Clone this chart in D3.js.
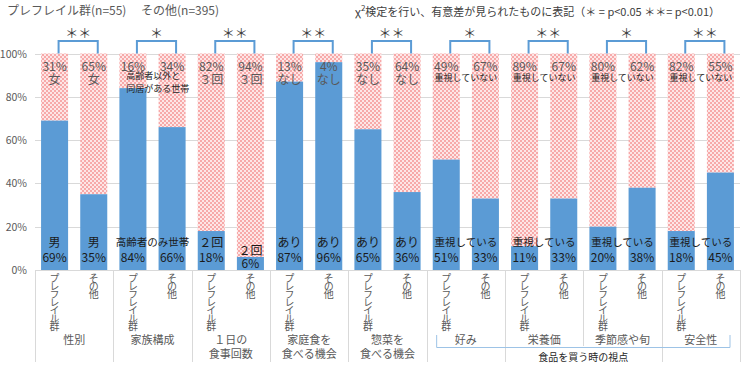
<!DOCTYPE html>
<html><head><meta charset="utf-8">
<script src="https://cdn.jsdelivr.net/npm/d3@7"></script>
<style>body{margin:0;background:#fff}svg{display:block;font-family:"Noto Sans CJK JP","Noto Sans",sans-serif}
.vt{writing-mode:vertical-rl;text-orientation:upright;letter-spacing:-1.9px}</style>
</head><body><svg id="c" width="747" height="367"></svg>
<script>
// ---------- data ----------
const groupLabels = [["性別"],["家族構成"],["１日の","食事回数"],["家庭食を","食べる機会"],["惣菜を","食べる機会"],["好み"],["栄養価"],["季節感や旬"],["安全性"]];
const barNames = ["プレフレイル群","その他"];
const preValues = [69,84,18,87,65,51,11,20,18];      // blue part, プレフレイル群
const othValues = [35,66,6,96,36,33,33,38,45];       // blue part, その他
const preTop = [31,16,82,13,35,49,89,80,82];         // pink part, プレフレイル群
const othTop = [65,34,94,4,64,67,67,62,55];          // pink part, その他
const bottomWords = ["男","高齢者のみ世帯","２回","あり","あり","重視している","重視している","重視している","重視している"];
const topWords = [["女"],["高齢者以外と","同居がある世帯"],["３回"],["なし"],["なし"],["重視していない"],["重視していない"],["重視していない"],["重視していない"]];
const sharedWord = [false,true,false,false,false,true,true,true,true];
const signif = ["＊＊","＊","＊＊","＊＊","＊＊","＊","＊＊","＊","＊＊"];
const yTicks = [0,20,40,60,80,100];
const subGroupTitle = "食品を買う時の視点";
const titleParts = ["プレフレイル群(n=55)","その他(n=395)"];

// ---------- layout ----------
const svg = d3.select("#c");
const L = 35, R = 740, T = 53.5, B = 270;
const nG = groupLabels.length;
const bars = [];
groupLabels.forEach((g,i)=>{
  bars.push({g:i,b:0,key:i+"-0",v:preValues[i],t:preTop[i]});
  bars.push({g:i,b:1,key:i+"-1",v:othValues[i],t:othTop[i]});
});
const x = d3.scaleBand().domain(bars.map(d=>d.key)).range([L,R]).paddingInner(0.31).paddingOuter(0.155);
const xg = d3.scaleBand().domain(d3.range(nG)).range([L,R]);
const y = d3.scaleLinear().domain([0,100]).range([B,T]);

// pattern
const defs = svg.append("defs");
const pat = defs.append("pattern").attr("id","chk").attr("width",4).attr("height",4).attr("patternUnits","userSpaceOnUse");
pat.append("rect").attr("width",4).attr("height",4).attr("fill","#fde6e6");
pat.append("rect").attr("width",2).attr("height",2).attr("fill","#f7a9a9");
pat.append("rect").attr("x",2).attr("y",2).attr("width",2).attr("height",2).attr("fill","#f7a9a9");

// titles
svg.append("text").attr("x",7).attr("y",15).attr("font-size",12).attr("fill","#595959").text(titleParts[0]);
svg.append("text").attr("x",141).attr("y",15).attr("font-size",12).attr("fill","#595959").text(titleParts[1]);
const note = svg.append("text").attr("x",355).attr("y",16).attr("font-size",11).attr("fill","#404040");
note.append("tspan").text("χ");
note.append("tspan").attr("dy",-5).attr("font-size",8).text("2");
note.append("tspan").attr("dy",5).text("検定を行い、有意差が見られたものに表記（＊ = p<0.05  ＊＊= p<0.01）");

// grid
svg.append("g").selectAll("line").data(yTicks.filter(t=>t>0)).join("line")
  .attr("x1",L).attr("x2",R).attr("y1",d=>Math.round(y(d))+0.5).attr("y2",d=>Math.round(y(d))+0.5)
  .attr("stroke","#d9d9d9").attr("stroke-width",1);
svg.append("g").selectAll("text").data(yTicks).join("text")
  .attr("x",27).attr("y",d=>y(d)+4).attr("text-anchor","end").attr("font-size",10.5).attr("fill","#595959")
  .text(d=>d+"%");

// bars
const bg = svg.append("g");
bg.selectAll("rect.top").data(bars).join("rect").attr("class","top")
  .attr("x",d=>x(d.key)).attr("width",x.bandwidth())
  .attr("y",y(100)).attr("height",d=>y(d.v)-y(100)).attr("fill","url(#chk)");
bg.selectAll("rect.bot").data(bars).join("rect").attr("class","bot")
  .attr("x",d=>x(d.key)).attr("width",x.bandwidth())
  .attr("y",d=>y(d.v)).attr("height",d=>y(0)-y(d.v)).attr("fill","#5b9bd5");

// x axis line & dividers
svg.append("line").attr("x1",L).attr("x2",R).attr("y1",B+0.5).attr("y2",B+0.5).attr("stroke","#d9d9d9");
const divs = d3.range(nG+1).map(i=> i<nG ? xg(i) : R);
svg.append("g").selectAll("line").data(divs).join("line")
  .attr("x1",d=>Math.round(d)+0.5).attr("x2",d=>Math.round(d)+0.5)
  .attr("y1",B).attr("y2",(d,i)=> i===7 ? 346 : 362)
  .attr("stroke","#d9d9d9");

// vertical bar names
const cx = d=>x(d.key)+x.bandwidth()/2;
svg.append("g").attr("font-size",10).attr("fill","#595959")
  .selectAll("text").data(bars).join("text").attr("class","vt")
  .attr("x",d=>cx(d)).attr("y",273).text(d=>barNames[d.b]);

// group labels
const gl = svg.append("g").attr("font-size",11).attr("fill","#595959").attr("text-anchor","middle");
groupLabels.forEach((lines,i)=>{
  const t = gl.append("text");
  lines.forEach((ln,k)=>{
    t.append("tspan").attr("x",xg(i)+xg.bandwidth()/2).attr("y",344+k*13.5).text(ln);
  });
});
// sub group bracket
const b0 = xg(5)+10, b1 = R-10;
svg.append("path").attr("d",`M${b0},335V347.5H${b1}V335`).attr("fill","none").attr("stroke","#9dc3e6").attr("stroke-width",1);
svg.append("text").attr("x",xg(7)).attr("y",361).attr("text-anchor","middle").attr("font-size",10).attr("fill","#262626").text(subGroupTitle);

// significance brackets
const sg = svg.append("g");
d3.range(nG).forEach(i=>{
  const a = cx(bars[2*i])+4, b = cx(bars[2*i+1])+4;
  sg.append("path").attr("d",`M${a},${T}V41H${b}V${T}`).attr("fill","none").attr("stroke","#5b9bd5").attr("stroke-width",2);
  sg.append("text").attr("x",(a+b)/2).attr("y",38).attr("text-anchor","middle").attr("font-size",13).attr("fill","#404040").text(signif[i]);
});

// value labels
const lab = svg.append("g");
bars.forEach(d=>{
  const c = cx(d);
  lab.append("text").attr("x",c).attr("y",71).attr("text-anchor","middle").attr("font-size",12).attr("fill","#595959").text(d.t+"%");
  const small = d.v < 10;
  lab.append("text").attr("x",c).attr("y",small?268:262).attr("text-anchor","middle").attr("font-size",12).attr("fill","#1a1a1a").text(d.v+"%");
  if(!sharedWord[d.g]){
    lab.append("text").attr("x",c).attr("y",small?255:247).attr("text-anchor","middle").attr("font-size",12).attr("fill","#1a1a1a").text(bottomWords[d.g]);
    lab.append("text").attr("x",c).attr("y",84).attr("text-anchor","middle").attr("font-size",12).attr("fill","#595959").text(topWords[d.g][0]);
  }
});
d3.range(nG).filter(i=>sharedWord[i]).forEach(i=>{
  const gc = xg(i)+xg.bandwidth()/2;
  lab.append("text").attr("x",gc).attr("y",246).attr("text-anchor","middle").attr("font-size",10.5).attr("fill","#1a1a1a").text(bottomWords[i]);
  const tw = topWords[i];
  if(tw.length>1){
    tw.forEach((ln,k)=>lab.append("text").attr("x",xg(i)+13).attr("y",79+k*13).attr("font-size",9).attr("fill","#262626").text(ln));
  } else {
    lab.append("text").attr("x",gc).attr("y",81).attr("text-anchor","middle").attr("font-size",9).attr("fill","#262626").text(tw[0]);
  }
});
</script></body></html>
